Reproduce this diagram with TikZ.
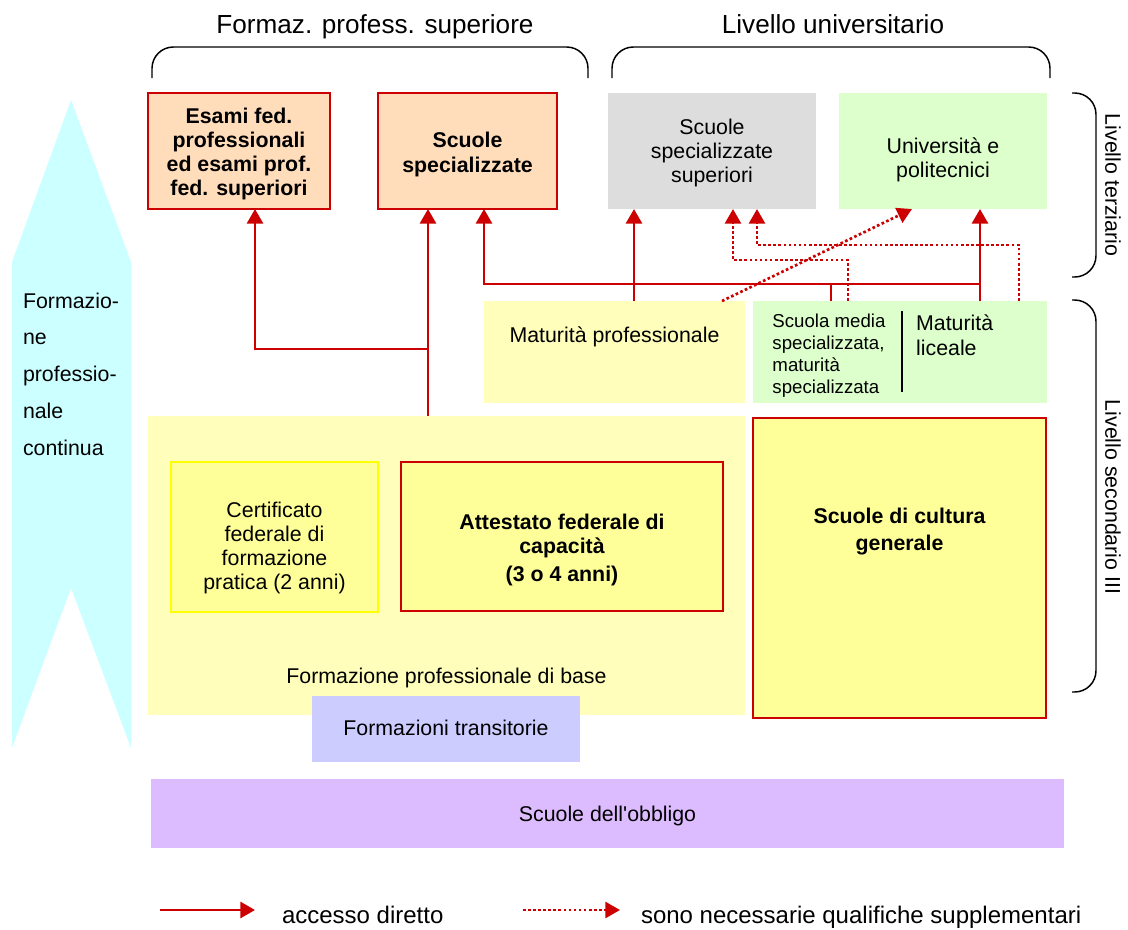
\documentclass[tikz,border=0pt]{standalone}
\usepackage{fontspec}
\setmainfont{Liberation Sans}[Ligatures=TeXOff]
\usetikzlibrary{arrows.meta}
\definecolor{dred}{HTML}{CC0000}
\definecolor{peach}{HTML}{FFDDBB}
\definecolor{lgray}{HTML}{DDDDDD}
\definecolor{lgreen}{HTML}{DDFFCC}
\definecolor{pyellow}{HTML}{FFFFBB}
\definecolor{myellow}{HTML}{FFFF99}
\definecolor{yborder}{HTML}{FFFF00}
\definecolor{cyanl}{HTML}{CCFFFF}
\definecolor{lav}{HTML}{CCCCFF}
\definecolor{purp}{HTML}{DDBBFF}
\newcommand{\movetext}[2]{\raisebox{#1}[\height][\depth]{\begin{tabular}{@{}c@{}}#2\end{tabular}}}
\newcommand{\moveltext}[2]{\raisebox{#1}[\height][\depth]{\begin{tabular}{@{}l@{}}#2\end{tabular}}}
\begin{document}
\begin{tikzpicture}[x=0.75pt,y=-0.75pt,
  box/.style={inner sep=0pt, outer sep=0pt, align=center, font=\fontsize{16}{18}\selectfont},
  area/.style n args={4}{minimum width={(#3-#1)*0.75pt}, minimum height={(#4-#2)*0.75pt},
     at={({(#1+#3)/2},{(#2+#4)/2})}},
  redbox/.style={box, draw=dred, line width=2.2pt},
  boldfont/.style={font=\fontsize{16}{18}\selectfont\bfseries},
  rline/.style={draw=dred, line width=2.2pt},
  acc/.style={rline, -{Triangle[length=11pt,width=12pt]}},
  dot/.style={draw=dred, line width=2pt, dash pattern=on 2pt off 1.8pt, -{Triangle[length=11pt,width=12pt]}},
  brace/.style={draw=black, line width=1.1pt, rounded corners=16pt}
]
\useasboundingbox (0,0) rectangle (1128,929);

% left arrow shape
\fill[cyanl] (12,262) -- (71,100) -- (131,262) -- (131,748) -- (71,588) -- (12,748) -- cycle;
\node[box, anchor=west, align=left, font=\fontsize{16}{27.6}\selectfont] (fpc) at (23,374)
  {Formazio-\\ne\\professio-\\nale\\continua};

% headers and braces
\node[box, anchor=base, font=\fontsize{19.6}{24}\selectfont] (t1) at (375,33) {Formaz. profess. superiore};
\node[box, anchor=base, font=\fontsize{19.6}{24}\selectfont] (t2) at (833,33) {Livello universitario};
\draw[brace] (152,78) -- (152,47) -- (588,47) -- (588,78);
\draw[brace] (612,78) -- (612,47) -- (1050,47) -- (1050,78);
\draw[brace] (1072,93) -- (1096,93) -- (1096,277) -- (1072,277);
\draw[brace] (1072,300) -- (1096,300) -- (1096,692) -- (1072,692);
\node[box, rotate=-90] (t3) at (1113,185) {Livello terziario};
\node[box, rotate=-90] (t4) at (1113,497) {Livello secondario III};

% tertiary level boxes
\node[redbox, boldfont, fill=peach, area={148}{93}{330}{209}] (esami)
  {\movetext{-2.5pt}{Esami fed.\\professionali\\ed esami prof.\\fed. superiori}};
\node[redbox, boldfont, fill=peach, area={378}{93}{557}{209}] (spec)
  {\movetext{-3.25pt}{Scuole\\[0.75pt]specializzate}};
\node[box, fill=lgray, area={608}{93}{816}{209}] (sup)
  {\movetext{-2.25pt}{Scuole\\specializzate\\superiori}};
\node[box, fill=lgreen, area={839}{93}{1047}{209}] (uni)
  {\movetext{-7.5pt}{Università e\\politecnici}};

% secondary level
\node[box, fill=pyellow, area={484}{301}{745}{403}] (matprof)
  {\movetext{10.5pt}{Maturità professionale}};
\node[box, fill=lgreen, area={753}{301}{905}{403}, font=\fontsize{14}{16.5}\selectfont] (media)
  {\moveltext{-3.25pt}{Scuola media\\specializzata,\\maturità\\specializzata}};
\node[box, fill=lgreen, area={905}{301}{1047}{403}] (liceo)
  {\moveltext{10.15pt}{Maturità\\[0.75pt]liceale}\hspace*{32pt}};
\draw[line width=1.5pt] (902,311) -- (902,392);

\node[box, fill=pyellow, area={148}{416}{745}{715}] (base)
  {\movetext{-85pt}{Formazione professionale di base}};
\node[box, fill=myellow, draw=yborder, line width=1.5pt, area={171}{462}{378}{612}] (cert)
  {\movetext{-9pt}{Certificato\\federale di\\formazione\\pratica (2 anni)}};
\node[redbox, boldfont, fill=myellow, area={401}{462}{723}{611}] (afc)
  {\movetext{-10.5pt}{Attestato federale di\\capacità\\[3pt](3 o 4 anni)}};
\node[redbox, boldfont, fill=myellow, area={753}{418}{1046}{718}] (cult)
  {\movetext{27pt}{Scuole di cultura\\[2pt]generale}};
\node[box, fill=lav, area={312}{696}{580}{762}] (trans)
  {\movetext{-1.5pt}{Formazioni transitorie}};
\node[box, fill=purp, area={151}{779}{1064}{848}] (obbl)
  {\movetext{-2.25pt}{Scuole dell'obbligo}};

% connectors: direct access
\coordinate (j1) at (428,349);
\coordinate (xa) at (255,349);
\draw[acc] (j1 |- base.north) -- (j1 |- spec.south);
\draw[acc] (j1) -- (xa) -- (xa |- esami.south);

\coordinate (j2) at (831,284);
\coordinate (j3) at (980,284);
\coordinate (xb) at (484,284);
\draw[rline] (j2 |- media.north) -- (j2);
\draw[acc] (j3) -- (xb) -- (xb |- spec.south);
\draw[acc] (j3 |- liceo.north) -- (j3 |- uni.south);

\coordinate (xc) at (634,250);
\draw[acc] (xc |- matprof.north) -- (xc |- sup.south);

% connectors: supplementary qualifications
\coordinate (d1a) at (722,301);
\coordinate (d1b) at (912,209);
\draw[dot] (d1a) -- (d1b);
\coordinate (d2) at (848,260);
\coordinate (xd) at (733,260);
\draw[dot] (d2 |- media.north) -- (d2) -- (xd) -- (xd |- sup.south);
\coordinate (d3) at (1019,245);
\coordinate (xe) at (757,245);
\draw[dot] (d3 |- liceo.north) -- (d3) -- (xe) -- (xe |- sup.south);

% legend
\coordinate (la) at (160,910);
\coordinate (lb) at (255,910);
\draw[acc] (la) -- (lb);
\node[box, anchor=base west, font=\fontsize{18}{20}\selectfont] (leg1) at (282,923) {accesso diretto};
\coordinate (lc) at (523,910);
\coordinate (ld) at (620,910);
\draw[dot] (lc) -- (ld);
\node[box, anchor=base west, font=\fontsize{18}{20}\selectfont] (leg2) at (641,923) {sono necessarie qualifiche supplementari};
\end{tikzpicture}
\end{document}
